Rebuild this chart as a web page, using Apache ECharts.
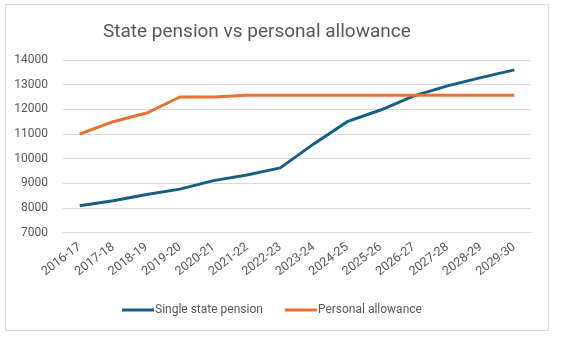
<!DOCTYPE html>
<html><head><meta charset="utf-8">
<script src="https://cdn.jsdelivr.net/npm/echarts@6/dist/echarts.min.js"></script>
<style>html,body{margin:0;padding:0;background:#fff}#c{width:563px;height:339px}</style>
</head><body><div id="c"></div>
<script>
const categories = ['2016-17','2017-18','2018-19','2019-20','2020-21','2021-22','2022-23','2023-24','2024-25','2025-26','2026-27','2027-28','2028-29','2029-30'];
const statePension = [8094, 8297, 8546, 8767, 9110, 9339, 9628, 10600, 11502, 11973, 12548, 12950, 13285, 13600];
const personalAllowance = [11000, 11500, 11850, 12500, 12500, 12570, 12570, 12570, 12570, 12570, 12570, 12570, 12570, 12570];
const seriesNames = ['Single state pension', 'Personal allowance'];
const titleText = 'State pension vs personal allowance';

const chart = echarts.init(document.getElementById('c'));
const font = 'Roboto, "Noto Sans", sans-serif';
chart.setOption({
  animation: false,
  textStyle: { fontFamily: font },
  graphic: [{ type: 'rect', shape: { x: 5.5, y: 4.5, width: 543, height: 326 }, style: { fill: 'none', stroke: '#d9d9d9', lineWidth: 1 } }],
  title: { text: titleText, left: 98, top: 18, textStyle: { fontFamily: font, fontSize: 19, fontWeight: 'normal', color: '#595959' } },
  legend: {
    data: seriesNames, bottom: 18, left: 117, icon: 'rect', itemWidth: 32, itemHeight: 3, itemGap: 22,
    textStyle: { fontFamily: font, fontSize: 12, color: '#595959', padding: [0,0,0,-4] }
  },
  grid: { left: 63, right: 32, top: 60, bottom: 106.3 },
  xAxis: {
    type: 'category', data: categories, boundaryGap: true,
    axisLine: { lineStyle: { color: '#d9d9d9' } }, axisTick: { show: false },
    axisLabel: { rotate: 37, fontSize: 12.5, color: '#595959', margin: 13, interval: 0, fontFamily: font }
  },
  yAxis: {
    type: 'value', min: 7000, max: 14000, interval: 1000,
    axisLine: { show: false }, axisTick: { show: false },
    splitLine: { lineStyle: { color: '#d9d9d9', width: 1 } },
    axisLabel: { fontSize: 12, color: '#595959', margin: 15, fontFamily: font, formatter: v => String(v) }
  },
  series: [
    { name: seriesNames[0], type: 'line', data: statePension, symbol: 'none', lineStyle: { width: 3, color: '#156082' }, itemStyle: { color: '#156082' } },
    { name: seriesNames[1], type: 'line', data: personalAllowance, symbol: 'none', lineStyle: { width: 3, color: '#E97132' }, itemStyle: { color: '#E97132' } }
  ]
});
</script></body></html>
